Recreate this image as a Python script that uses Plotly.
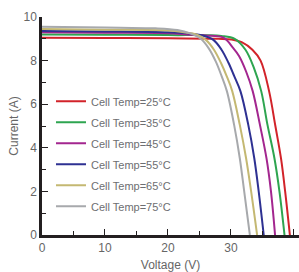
import plotly.graph_objects as go

labels = ["Cell Temp=25°C", "Cell Temp=35°C", "Cell Temp=45°C",
          "Cell Temp=55°C", "Cell Temp=65°C", "Cell Temp=75°C"]
colors = ["#d2232a", "#2ea550", "#a3268f", "#2e3192", "#c4b872", "#a7a9ac"]

v25 = [0, 10, 20, 28, 30.1, 31.7, 33.4, 34.7, 36.05, 37.05, 37.95, 38.6, 39.35]
i25 = [9.05, 9.04, 9.02, 9.0, 8.97, 8.85, 8.5, 8.0, 6.6, 5.0, 3.5, 2.0, 0]

v35 = [0, 10, 20, 28.5, 30.6, 32.3, 33.6, 34.8, 35.8, 36.9, 37.7, 38.5]
i35 = [9.2, 9.19, 9.17, 9.13, 9.0, 8.5, 7.7, 6.6, 5.05, 3.52, 1.99, 0]

v45 = [0, 10, 20, 23, 26, 28.8, 30.3, 31.3, 32.4, 33.45, 34.6, 35.65, 36.35, 37.0]
i45 = [9.3, 9.28, 9.26, 9.2, 9.15, 9.05, 8.6, 8.2, 7.5, 6.6, 5.05, 3.5, 2.0, 0]

v55 = [0, 10, 20, 23, 25.5, 27.2, 28.5, 29.6, 30.5, 31.5, 32.75, 33.7, 34.4, 35.2]
i55 = [9.36, 9.34, 9.3, 9.25, 9.15, 8.95, 8.5, 7.9, 7.3, 6.6, 5.05, 3.52, 2.0, 0]

v65 = [0, 10, 20, 22.5, 24.5, 26.0, 27.3, 28.4, 29.3, 30.2, 31.4, 32.4, 33.2, 34.15]
i65 = [9.45, 9.42, 9.38, 9.3, 9.2, 8.95, 8.5, 7.9, 7.3, 6.6, 5.05, 3.52, 2.0, 0]

v75 = [0, 10, 18, 21.5, 23.5, 25.2, 26.5, 27.6, 28.5, 29.35, 30.5, 31.4, 32.1, 33.0]
i75 = [9.55, 9.52, 9.48, 9.4, 9.25, 9.0, 8.55, 7.95, 7.3, 6.6, 5.05, 3.52, 2.0, 0]

xs = [v25, v35, v45, v55, v65, v75]
ys = [i25, i35, i45, i55, i65, i75]

x_ticks = [0, 10, 20, 30, 40]
y_ticks = [0, 2, 4, 6, 8, 10]

fig = go.Figure()
for k in range(6):
    fig.add_trace(go.Scatter(
        x=xs[k], y=ys[k], mode="lines", name=labels[k],
        legendgroup=str(k),
        line=dict(color=colors[k], width=2, shape="spline", smoothing=1.0),
    ))

axis_common = dict(
    showgrid=False, zeroline=False, showline=True, automargin=False,
    linecolor="#231f20", linewidth=2.5,
    ticks="inside", ticklen=6, tickwidth=1, tickcolor="#231f20",
    tickfont=dict(family="Liberation Sans, Arial", size=12, color="#666666"),
    title_font=dict(family="Liberation Sans, Arial", size=12, color="#666666"),
)

fig.update_xaxes(
    range=[0, 40.8], tickvals=x_ticks, ticktext=[str(t) for t in x_ticks],
    minor=dict(tickvals=[5, 15, 25, 35], ticks="inside", ticklen=4,
               tickcolor="#231f20", tickwidth=1),
    title_text="Voltage (V)", title_standoff=10,
    **axis_common,
)
fig.update_yaxes(
    range=[0, 10], tickvals=y_ticks, ticktext=[str(t) for t in y_ticks],
    minor=dict(tickvals=[1, 3, 5, 7, 9], ticks="inside", ticklen=4,
               tickcolor="#231f20", tickwidth=1),
    title_text="Current (A)", title_standoff=3,
    **axis_common,
)

fig.update_layout(
    width=299, height=272,
    margin=dict(l=42, r=0, t=17, b=37),
    paper_bgcolor="white", plot_bgcolor="white",
    showlegend=True,
    legend=dict(
        x=0.035, y=0.68, xanchor="left", yanchor="top",
        bgcolor="rgba(0,0,0,0)", borderwidth=0,
        font=dict(family="Liberation Sans, Arial", size=11, color="#6d6e71"),
        tracegroupgap=2, itemwidth=30,
    ),
)

fig.write_html("out.html",
               config={"displayModeBar": False},
               post_script="document.body.style.margin='0';document.body.style.overflow='hidden';")
